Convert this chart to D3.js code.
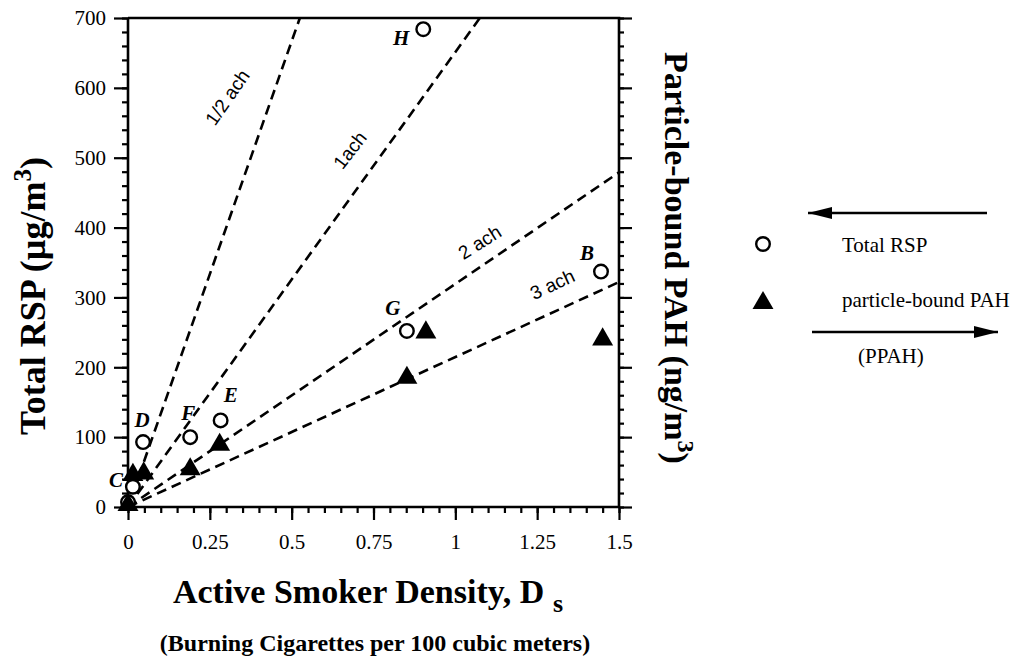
<!DOCTYPE html>
<meta charset="utf-8">
<style>
body { margin: 0; background: #fff; }
svg { display: block; }
.axis-line { stroke: #000; stroke-width: 2.6; fill: none; }
.tick-label { font-family: "Liberation Serif", serif; font-size: 21px; fill: #000; }
.title { font-family: "Liberation Serif", serif; font-weight: bold; fill: #000; }
.ach { fill: none; stroke: #000; stroke-width: 2.6; stroke-dasharray: 10 6; }
.ach-label { font-family: "Liberation Sans", sans-serif; font-size: 19px; fill: #000; }
.pt-label { font-family: "Liberation Serif", serif; font-style: italic; font-weight: bold; font-size: 21px; fill: #000; }
.legend-text { font-family: "Liberation Serif", serif; font-size: 21px; fill: #000; }
</style>
<svg id="chart" width="1023" height="660"></svg>
<script src="https://d3js.org/d3.v7.min.js"></script>
<script>

// ---- data ----
var xTicks = [0, 0.25, 0.5, 0.75, 1, 1.25, 1.5];
var xTickLabels = ["0", "0.25", "0.5", "0.75", "1", "1.25", "1.5"];
var yTicks = [0, 100, 200, 300, 400, 500, 600, 700];

// total RSP (open circles)
var rspX = [0.0, 0.015, 0.046, 0.19, 0.283, 0.852, 0.902, 1.445];
var rspY = [7, 29, 93, 100, 124, 252, 684, 337];
var rspNames = ["", "C", "D", "F", "E", "G", "H", "B"];

// particle-bound PAH (filled triangles)
var pahX = [0.0, 0.015, 0.048, 0.19, 0.28, 0.852, 0.91, 1.45];
var pahY = [3, 46, 48, 54, 89, 185, 250, 240];

// air-change model lines, end points
var achNames = ["1/2 ach", "1ach", "2 ach", "3 ach"];
var achEndX = [0.525, 1.075, 1.5, 1.5];
var achEndY = [700, 700, 479, 322];

// ---- layout ----
var svg = d3.select("#chart");
var x = d3.scaleLinear().domain([0, 1.5]).range([128, 619]);
var y = d3.scaleLinear().domain([0, 700]).range([507, 18]);

// label placement (data coords + angle) and point label offsets (px)
var achLabelPos = [[0.32, 581, -55], [0.694, 505, -52], [1.085, 371, -32], [1.305, 310, -25]];
var ptLabelOff = {C: [-17, 0], D: [-1, -15], F: [-2, -17], E: [10, -18], G: [-14, -16], H: [-22, 16], B: [-14, -12]};

// ---- dashed model lines ----
var line = d3.line().x(function(d) { return x(d[0]); }).y(function(d) { return y(d[1]); });
svg.append("g").selectAll("path")
    .data(achNames.map(function(n, i) { return [[0, 0], [achEndX[i], achEndY[i]]]; }))
  .enter().append("path")
    .attr("class", "ach")
    .attr("d", line);

svg.append("g").selectAll("text")
    .data(achNames)
  .enter().append("text")
    .attr("class", "ach-label")
    .attr("text-anchor", "middle")
    .attr("transform", function(d, i) {
      var p = achLabelPos[i];
      return "translate(" + x(p[0]) + "," + y(p[1]) + ") rotate(" + p[2] + ")";
    })
    .text(function(d) { return d; });

// ---- axes ----
var minorX = d3.range(0, 1.5001, 0.05);
var minorY = d3.range(0, 700.1, 20);

var gx = svg.append("g").attr("transform", "translate(0," + y(0) + ")");
gx.call(d3.axisBottom(x).tickValues(minorX).tickSize(6).tickFormat(""));
gx.append("g").call(d3.axisBottom(x).tickValues(xTicks).tickSize(13).tickPadding(14)
    .tickFormat(function(d, i) { return xTickLabels[i]; }));

var gy = svg.append("g").attr("transform", "translate(" + x(0) + ",0)");
gy.call(d3.axisLeft(y).tickValues(minorY).tickSize(6).tickFormat(""));
gy.append("g").call(d3.axisLeft(y).tickValues(yTicks).tickSize(14).tickPadding(8));

var gr = svg.append("g").attr("transform", "translate(" + x(1.5) + ",0)");
gr.call(d3.axisRight(y).tickValues(minorY).tickSize(5).tickFormat(""));
gr.append("g").call(d3.axisRight(y).tickValues(yTicks).tickSize(13).tickFormat(""));

svg.selectAll(".domain").remove();
svg.selectAll(".tick line").attr("stroke", "#000").attr("stroke-width", 2.2);
svg.selectAll(".tick text").attr("class", "tick-label").attr("font-size", null).attr("font-family", null);

// frame: left, bottom, right, top
svg.append("path")
    .attr("class", "axis-line")
    .attr("d", "M" + x(0) + "," + y(700) + "V" + y(0) + "H" + x(1.5) + "V" + y(700) + "H" + x(0));

// ---- points ----
var tri = d3.symbol().type(d3.symbolTriangle).size(190);
svg.append("g").selectAll("circle")
    .data(rspX)
  .enter().append("circle")
    .attr("cx", function(d) { return x(d); })
    .attr("cy", function(d, i) { return y(rspY[i]); })
    .attr("r", 6.8)
    .attr("fill", "#fff")
    .attr("stroke", "#000")
    .attr("stroke-width", 2.4);

svg.append("g").selectAll("path")
    .data(pahX)
  .enter().append("path")
    .attr("d", tri)
    .attr("fill", "#000")
    .attr("transform", function(d, i) { return "translate(" + x(d) + "," + y(pahY[i]) + ")"; });

svg.append("g").selectAll("text")
    .data(rspNames)
  .enter().filter(function(d) { return d !== ""; }).append("text")
    .attr("class", "pt-label")
    .attr("text-anchor", "middle")
    .attr("x", function(d) { return x(rspX[rspNames.indexOf(d)]) + ptLabelOff[d][0]; })
    .attr("y", function(d) { return y(rspY[rspNames.indexOf(d)]) + ptLabelOff[d][1]; })
    .text(function(d) { return d; });

// ---- titles ----
var xt = svg.append("text").attr("class", "title")
    .attr("x", 368).attr("y", 603)
    .attr("text-anchor", "middle")
    .style("font-size", "34px");
xt.append("tspan").text("Active Smoker Density, D ");
xt.append("tspan").attr("dy", 9).style("font-size", "26px").text("s");

svg.append("text").attr("class", "title")
    .attr("x", 375).attr("y", 651)
    .attr("text-anchor", "middle")
    .style("font-size", "24px")
    .text("(Burning Cigarettes per 100 cubic meters)");

var yt = svg.append("text").attr("class", "title")
    .attr("transform", "translate(45,296) rotate(-90)")
    .attr("text-anchor", "middle")
    .style("font-size", "36px");
yt.append("tspan").text("Total RSP (\u00b5g/m");
yt.append("tspan").attr("dy", -14).style("font-size", "25px").text("3");
yt.append("tspan").attr("dy", 14).text(")");

var rt = svg.append("text").attr("class", "title")
    .attr("transform", "translate(665,258) rotate(90)")
    .attr("text-anchor", "middle")
    .style("font-size", "34px");
rt.append("tspan").text("Particle-bound PAH (ng/m");
rt.append("tspan").attr("dy", -13).style("font-size", "24px").text("3");
rt.append("tspan").attr("dy", 13).text(")");

// ---- legend ----
var lg = svg.append("g");
function arrow(x1, x2, yy, left) {
  lg.append("line").attr("x1", x1).attr("x2", x2).attr("y1", yy).attr("y2", yy)
      .attr("stroke", "#000").attr("stroke-width", 2.6);
  var tip = left ? x1 : x2, back = left ? x1 + 24 : x2 - 24;
  lg.append("path")
      .attr("d", "M" + tip + "," + yy + "L" + back + "," + (yy - 6) + "L" + back + "," + (yy + 6) + "Z")
      .attr("fill", "#000");
}
arrow(808, 987, 213, true);
arrow(812, 998, 332, false);

lg.append("circle").attr("cx", 763).attr("cy", 244).attr("r", 6.8)
    .attr("fill", "#fff").attr("stroke", "#000").attr("stroke-width", 2.4);
lg.append("path").attr("d", tri).attr("fill", "#000").attr("transform", "translate(763,303)");

lg.append("text").attr("class", "legend-text").attr("x", 842).attr("y", 252).text("Total RSP");
lg.append("text").attr("class", "legend-text").attr("x", 842).attr("y", 307).text("particle-bound PAH");
lg.append("text").attr("class", "legend-text").attr("x", 858).attr("y", 363).text("(PPAH)");

</script>
